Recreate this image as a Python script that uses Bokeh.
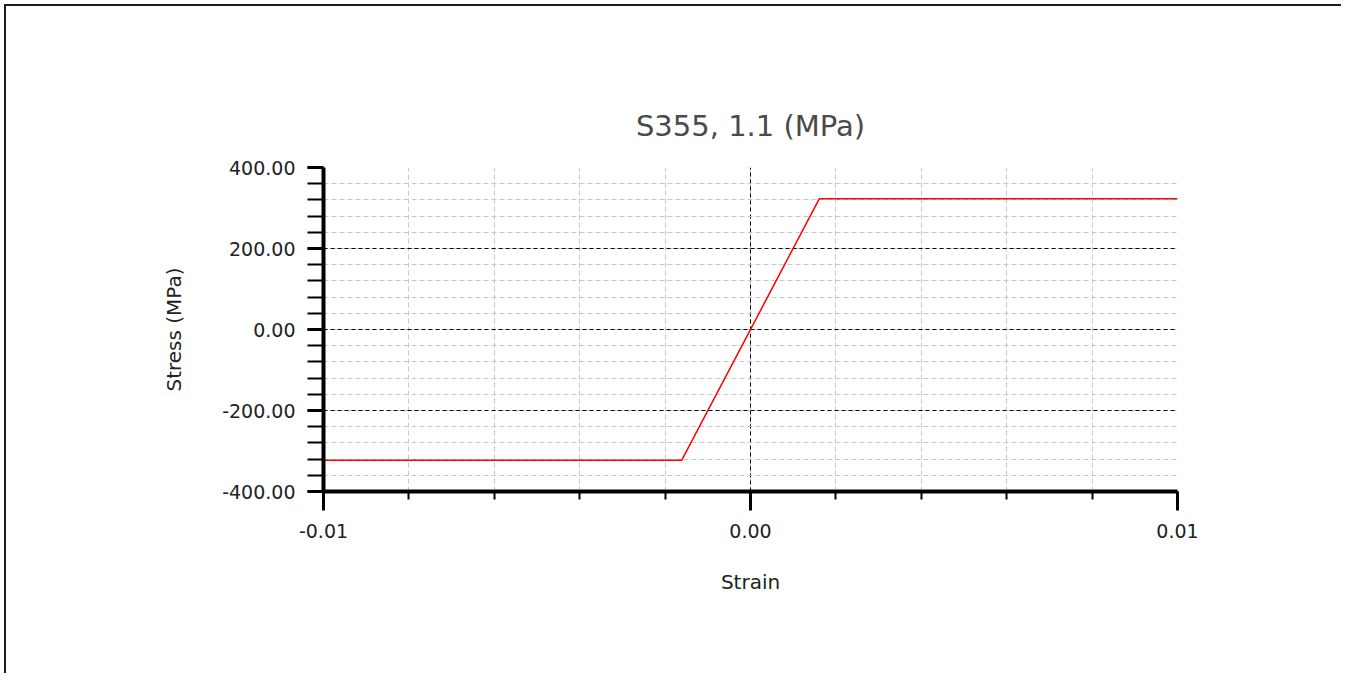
from bokeh.plotting import figure
from bokeh.models import Range1d, FixedTicker, PrintfTickFormatter, InlineStyleSheet
from bokeh.embed import file_html
from bokeh.resources import INLINE

# Data
strain = [-0.01, -0.00161, 0.00161, 0.01]
stress = [-322.7, -322.7, 322.7, 322.7]

x_major = [-0.01, 0.0, 0.01]
x_minor = [-0.01, -0.008, -0.006, -0.004, -0.002, 0.0, 0.002, 0.004, 0.006, 0.008, 0.01]
y_major = [-400, -200, 0, 200, 400]
y_minor = [-400, -360, -320, -280, -240, -200, -160, -120, -80, -40, 0,
           40, 80, 120, 160, 200, 240, 280, 320, 360, 400]

title_text = "S355, 1.1 (MPa)"
x_label = "Strain"
y_label = "Stress (MPa)"

FONT = "DejaVu Sans"

p = figure(width=1337, height=669, output_backend="svg", toolbar_location=None,
           x_range=Range1d(-0.01, 0.01), y_range=Range1d(-400, 400),
           min_border_left=317, min_border_right=166,
           min_border_top=161, min_border_bottom=184,
           title=title_text)
p.stylesheets = [InlineStyleSheet(css=":host { margin-left: 4px; margin-top: 4px; "
                                      "border-left: 2px solid #1e1e1e; border-top: 2px solid #1e1e1e; }")]

p.outline_line_color = None
p.background_fill_color = "white"
p.border_fill_color = "white"

p.title.align = "center"
p.title.text_font = FONT
p.title.text_font_size = "29px"
p.title.text_font_style = "normal"
p.title.text_color = "#4a4a4a"
p.title.standoff = 50

# Axes
p.xaxis.ticker = FixedTicker(ticks=x_major, minor_ticks=x_minor)
p.yaxis.ticker = FixedTicker(ticks=y_major, minor_ticks=y_minor)
p.xaxis.formatter = PrintfTickFormatter(format="%.2f")
p.yaxis.formatter = PrintfTickFormatter(format="%.2f")

for ax in (p.xaxis, p.yaxis):
    ax.axis_line_width = 4
    ax.axis_line_color = "black"
    ax.major_tick_line_color = "black"
    ax.minor_tick_line_color = "black"
    ax.major_tick_line_width = 3
    ax.minor_tick_line_width = 2
    ax.major_tick_in = 0
    ax.minor_tick_in = 0
    ax.major_label_text_font = FONT
    ax.major_label_text_font_size = "19px"
    ax.major_label_text_color = "#222222"
    ax.axis_label_text_font = FONT
    ax.axis_label_text_font_size = "20px"
    ax.axis_label_text_font_style = "normal"
    ax.axis_label_text_color = "#222222"

p.xaxis.major_tick_out = 19
p.xaxis.minor_tick_out = 8
p.xaxis.major_label_standoff = 13
p.xaxis.axis_label = x_label
p.xaxis.axis_label_standoff = 29

p.yaxis.major_tick_out = 16
p.yaxis.minor_tick_out = 16
p.yaxis.major_label_standoff = 12
p.yaxis.axis_label = y_label
p.yaxis.axis_label_standoff = 33

# Grids
p.xgrid.grid_line_color = "black"
p.xgrid.grid_line_dash = "4 3"
p.xgrid.grid_line_width = 1
p.xgrid.minor_grid_line_color = "#c8c8c8"
p.xgrid.minor_grid_line_dash = "5 3"
p.xgrid.minor_grid_line_width = 1
p.ygrid.grid_line_color = "black"
p.ygrid.grid_line_dash = "4 3"
p.ygrid.grid_line_width = 1
p.ygrid.minor_grid_line_color = "#c8c8c8"
p.ygrid.minor_grid_line_dash = "5 3"
p.ygrid.minor_grid_line_width = 1
p.xgrid.level = "underlay"
p.ygrid.level = "underlay"

p.line(strain, stress, line_color="#ff0000", line_width=1.5)

open("out.html", "w").write(file_html(p, INLINE))
